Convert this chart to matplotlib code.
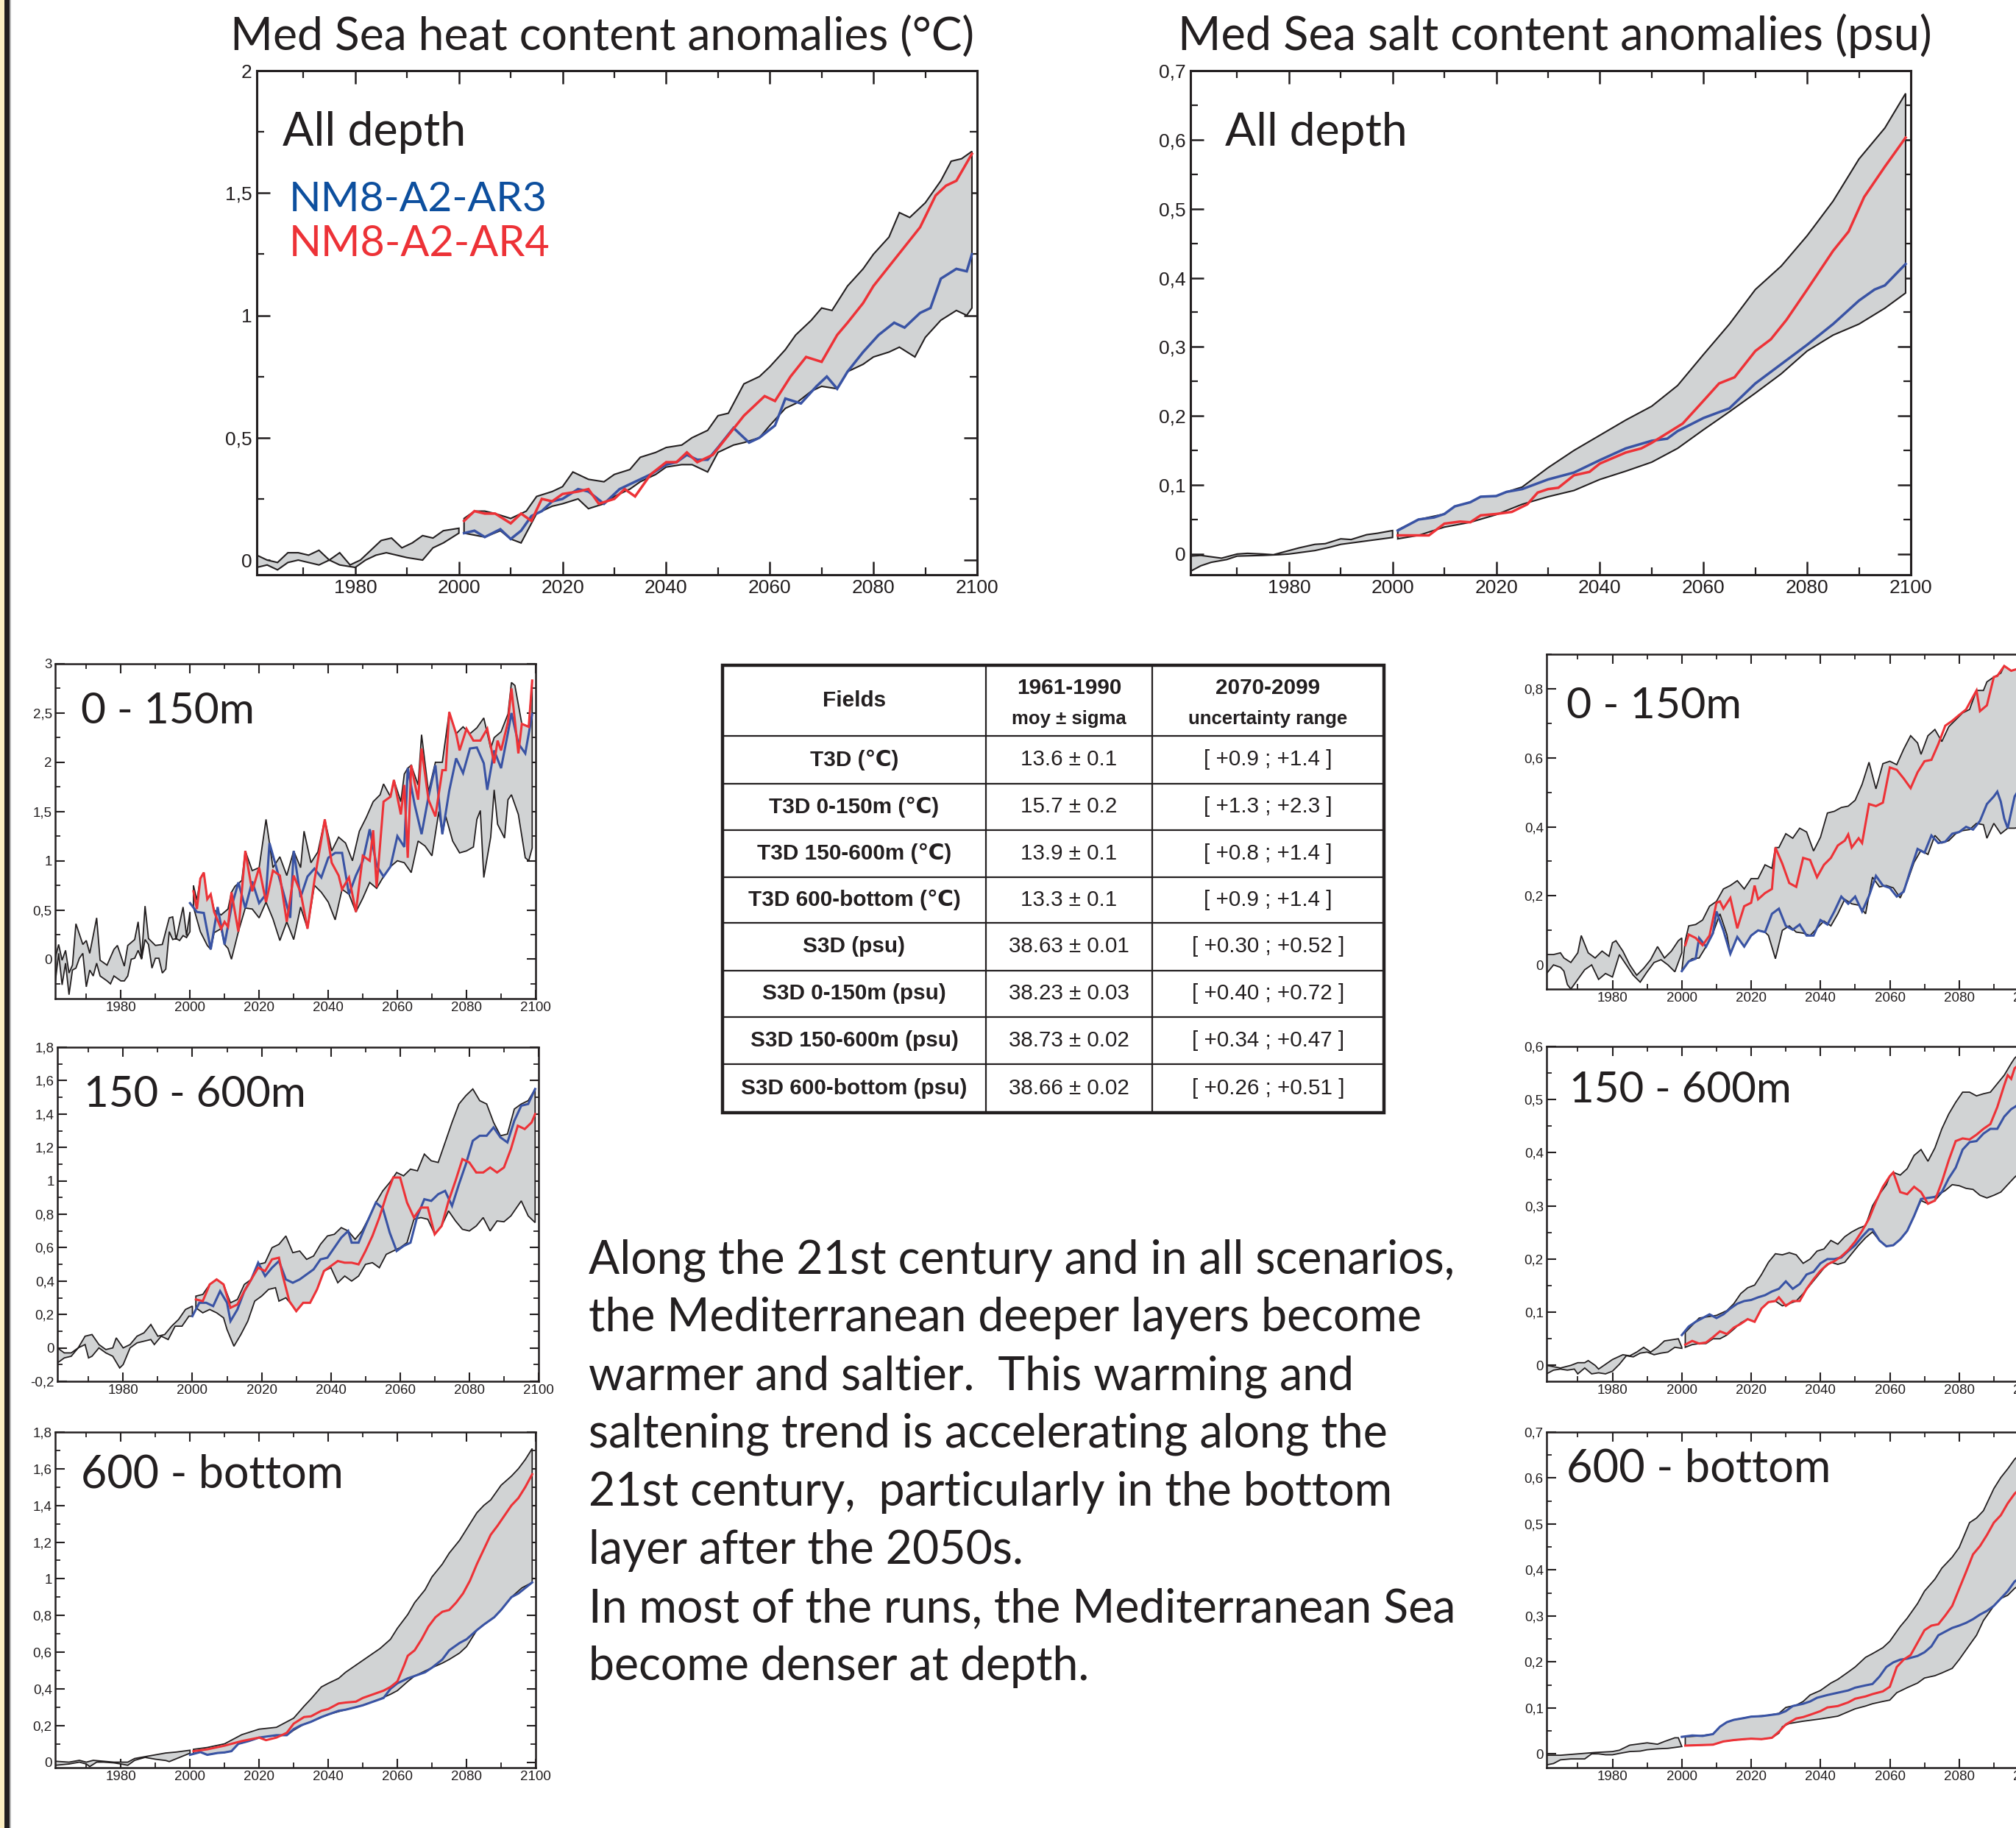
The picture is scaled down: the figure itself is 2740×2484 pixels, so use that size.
import numpy as np
import matplotlib
matplotlib.use('Agg')
import matplotlib.pyplot as plt
from matplotlib import font_manager as fm
from matplotlib.patches import Rectangle
from matplotlib.ticker import MultipleLocator, FuncFormatter

W, H = 2740, 2484
INK = '#231f20'
GREY = '#d1d3d4'
BLUE = '#3953a4'
RED = '#ed3237'
LEG_BLUE = '#0d4f9e'

installed = {f.name for f in fm.fontManager.ttflist}
NARROW = 'Liberation Sans Narrow' if 'Liberation Sans Narrow' in installed else 'Liberation Sans'
MAIN = 'Lato'
plt.rcParams['font.family'] = [NARROW, 'DejaVu Sans']

# ---------------- data: heat content, all depth ----------------
A_HIST_UP = [(1961, 0.02), (1963, 0.0), (1965, -0.01), (1967, 0.03), (1969, 0.03), (1971, 0.02), (1973, 0.04),
             (1975, 0.0), (1977, 0.03), (1979, -0.02), (1981, 0.0), (1983, 0.04), (1985, 0.08), (1987, 0.09),
             (1989, 0.05), (1991, 0.07), (1993, 0.1), (1995, 0.09), (1997, 0.12), (2000, 0.13)]
A_HIST_LO = [(1961, -0.03), (1963, -0.02), (1965, -0.04), (1967, -0.01), (1969, 0.0), (1971, -0.01), (1973, -0.02),
             (1975, 0.0), (1977, -0.02), (1980, -0.03), (1982, 0.0), (1984, 0.02), (1986, 0.03), (1988, 0.02),
             (1990, 0.01), (1993, 0.0), (1995, 0.05), (1997, 0.07), (2000, 0.11)]
A_UP = [(2001, 0.17), (2003, 0.2), (2005, 0.2), (2007, 0.19), (2010, 0.17), (2013, 0.2), (2015, 0.26), (2018, 0.28),
        (2020, 0.3), (2022, 0.36), (2025, 0.33), (2028, 0.32), (2030, 0.35), (2033, 0.37), (2035, 0.42), (2038, 0.44),
        (2040, 0.46), (2043, 0.47), (2045, 0.5), (2048, 0.53), (2050, 0.59), (2052, 0.6), (2055, 0.72), (2058, 0.75),
        (2060, 0.79), (2063, 0.86), (2065, 0.92), (2068, 0.98), (2070, 1.03), (2072, 1.02), (2075, 1.12), (2078, 1.19),
        (2080, 1.25), (2083, 1.32), (2085, 1.42), (2087, 1.4), (2090, 1.46), (2093, 1.55), (2095, 1.63), (2097, 1.64),
        (2099, 1.67)]
A_LO = [(2001, 0.11), (2005, 0.094), (2008, 0.12), (2010, 0.086), (2012, 0.07), (2015, 0.19), (2018, 0.22),
        (2020, 0.23), (2023, 0.25), (2025, 0.21), (2028, 0.23), (2030, 0.26), (2033, 0.29), (2035, 0.32), (2038, 0.35),
        (2040, 0.38), (2043, 0.39), (2045, 0.39), (2048, 0.36), (2050, 0.44), (2053, 0.47), (2055, 0.48), (2058, 0.5),
        (2060, 0.55), (2063, 0.62), (2065, 0.64), (2068, 0.69), (2070, 0.71), (2073, 0.7), (2075, 0.77), (2078, 0.8),
        (2080, 0.83), (2083, 0.85), (2085, 0.87), (2088, 0.83), (2090, 0.91), (2093, 0.98), (2096, 1.02), (2098, 1.0),
        (2099, 1.03)]
A_BLUE = [(2001, 0.11), (2003, 0.12), (2005, 0.094), (2008, 0.126), (2010, 0.086), (2012, 0.12), (2014, 0.18),
          (2016, 0.2), (2018, 0.24), (2020, 0.25), (2023, 0.29), (2025, 0.28), (2028, 0.23), (2031, 0.29), (2034, 0.32),
          (2037, 0.35), (2040, 0.39), (2042, 0.4), (2044, 0.43), (2046, 0.41), (2048, 0.41), (2050, 0.46), (2053, 0.54),
          (2056, 0.48), (2058, 0.5), (2061, 0.55), (2063, 0.66), (2066, 0.64), (2069, 0.71), (2071, 0.75), (2073, 0.7),
          (2075, 0.77), (2078, 0.85), (2081, 0.92), (2084, 0.97), (2086, 0.95), (2089, 1.01), (2091, 1.03),
          (2093, 1.15), (2096, 1.19), (2098, 1.18), (2099, 1.25)]
A_RED = [(2001, 0.16), (2003, 0.2), (2005, 0.19), (2007, 0.19), (2010, 0.15), (2012, 0.19), (2014, 0.16), (2016, 0.25),
         (2018, 0.24), (2020, 0.27), (2023, 0.28), (2025, 0.29), (2027, 0.23), (2030, 0.25), (2032, 0.29), (2034, 0.26),
         (2037, 0.35), (2040, 0.4), (2042, 0.4), (2044, 0.44), (2046, 0.4), (2049, 0.43), (2052, 0.51), (2055, 0.59),
         (2059, 0.67), (2061, 0.65), (2064, 0.75), (2067, 0.83), (2070, 0.81), (2073, 0.92), (2075, 0.97), (2078, 1.05),
         (2080, 1.12), (2083, 1.2), (2086, 1.28), (2089, 1.36), (2092, 1.49), (2094, 1.53), (2096, 1.55), (2099, 1.66)]

# ---------------- salt content, all depth ----------------
B_HIST_UP = [(1961, -0.003), (1963, -0.002), (1965, -0.004), (1967, -0.006), (1970, 0.0), (1972, 0.001), (1975, 0.0),
             (1977, -0.001), (1980, 0.005), (1982, 0.009), (1985, 0.014), (1987, 0.015), (1990, 0.022), (1992, 0.021),
             (1995, 0.028), (1997, 0.03), (2000, 0.034)]
B_HIST_LO = [(1961, -0.025), (1963, -0.017), (1965, -0.012), (1968, -0.008), (1970, -0.003), (1975, -0.002),
             (1978, -0.001), (1980, 0.0), (1985, 0.005), (1988, 0.01), (1990, 0.014), (1995, 0.019), (2000, 0.024)]
B_UP = [(2001, 0.035), (2005, 0.05), (2010, 0.058), (2012, 0.069), (2015, 0.075), (2017, 0.083), (2020, 0.084),
        (2022, 0.09), (2025, 0.097), (2030, 0.125), (2035, 0.15), (2040, 0.172), (2045, 0.194), (2050, 0.214),
        (2055, 0.244), (2060, 0.289), (2065, 0.333), (2070, 0.383), (2075, 0.417), (2080, 0.461), (2085, 0.511),
        (2090, 0.572), (2095, 0.617), (2099, 0.667)]
B_LO = [(2001, 0.022), (2005, 0.027), (2010, 0.039), (2015, 0.046), (2020, 0.057), (2025, 0.072), (2030, 0.083),
        (2035, 0.092), (2040, 0.108), (2045, 0.12), (2050, 0.133), (2055, 0.153), (2060, 0.18), (2065, 0.206),
        (2070, 0.233), (2075, 0.261), (2080, 0.294), (2085, 0.317), (2090, 0.333), (2095, 0.356), (2099, 0.378)]
B_BLUE = [(2001, 0.034), (2005, 0.05), (2008, 0.053), (2010, 0.058), (2012, 0.069), (2015, 0.075), (2017, 0.083),
          (2020, 0.084), (2022, 0.09), (2025, 0.094), (2030, 0.108), (2035, 0.118), (2040, 0.136), (2045, 0.153),
          (2050, 0.164), (2053, 0.167), (2055, 0.178), (2060, 0.197), (2065, 0.211), (2070, 0.247), (2075, 0.275),
          (2080, 0.303), (2085, 0.333), (2090, 0.367), (2093, 0.383), (2095, 0.389), (2099, 0.42)]
B_RED = [(2001, 0.027), (2005, 0.027), (2007, 0.027), (2010, 0.044), (2013, 0.047), (2015, 0.046), (2017, 0.056),
         (2020, 0.058), (2023, 0.061), (2026, 0.072), (2028, 0.089), (2030, 0.094), (2032, 0.096), (2035, 0.114),
         (2038, 0.119), (2040, 0.131), (2045, 0.147), (2048, 0.153), (2050, 0.161), (2053, 0.175), (2056, 0.189),
         (2060, 0.222), (2063, 0.247), (2066, 0.256), (2070, 0.294), (2073, 0.311), (2076, 0.339), (2080, 0.383),
         (2085, 0.439), (2088, 0.467), (2091, 0.517), (2095, 0.561), (2099, 0.603)]

# ---------------- temperature 0-150m ----------------
C_HIST_UP = [(1961, 0.01), (1962, 0.15), (1963, -0.01), (1964, 0.09), (1965, -0.14), (1966, -0.06), (1967, 0.36),
             (1969, 0.15), (1970, 0.19), (1971, 0.06), (1973, 0.42), (1974, -0.01), (1976, -0.06), (1978, 0.1),
             (1979, 0.14), (1981, -0.07), (1982, 0.14), (1984, 0.2), (1985, 0.38), (1986, 0.01), (1987, 0.54),
             (1988, 0.21), (1990, 0.14), (1992, 0.15), (1994, 0.42), (1995, 0.43), (1996, 0.2), (1998, 0.53),
             (1999, 0.24), (2000, 0.48)]
C_HIST_LO = [(1961, -0.24), (1962, 0.06), (1963, -0.26), (1964, -0.04), (1965, -0.36), (1966, -0.11), (1967, -0.09),
             (1968, 0.01), (1969, 0.06), (1970, -0.28), (1971, -0.11), (1972, -0.17), (1973, -0.04), (1974, -0.17),
             (1976, -0.22), (1977, -0.25), (1978, -0.17), (1980, -0.22), (1981, -0.22), (1982, -0.17), (1983, 0.0),
             (1984, 0.01), (1985, 0.09), (1986, 0.0), (1987, 0.2), (1988, 0.15), (1989, -0.09), (1990, 0.01),
             (1991, 0.01), (1992, -0.14), (1993, -0.1), (1994, 0.28), (1995, 0.2), (1996, 0.21), (1997, 0.19),
             (1998, 0.24), (1999, 0.22), (2000, 0.28)]
C_UP = [(2001, 0.75), (2002, 0.6), (2003, 0.82), (2004, 0.88), (2005, 0.61), (2006, 0.66), (2007, 0.5), (2009, 0.45),
        (2011, 0.51), (2012, 0.68), (2013, 0.74), (2015, 0.8), (2016, 1.1), (2018, 0.9), (2020, 0.93), (2022, 1.42),
        (2023, 1.18), (2024, 0.93), (2026, 1.04), (2028, 0.85), (2030, 1.1), (2032, 0.93), (2033, 1.3), (2035, 0.98),
        (2037, 1.09), (2039, 1.42), (2041, 1.1), (2043, 1.24), (2045, 1.18), (2047, 1.0), (2049, 1.3), (2051, 1.44),
        (2053, 1.6), (2055, 1.67), (2056, 1.78), (2058, 1.65), (2059, 1.82), (2061, 1.6), (2062, 1.88), (2063, 1.94),
        (2064, 1.97), (2066, 1.77), (2067, 2.28), (2069, 1.7), (2071, 2.0), (2073, 2.0), (2075, 2.51), (2077, 2.29),
        (2079, 2.36), (2081, 2.29), (2083, 2.35), (2085, 2.45), (2087, 2.14), (2088, 2.25), (2090, 2.31),
        (2092, 2.49), (2093, 2.81), (2094, 2.78), (2096, 2.39), (2098, 2.36), (2099, 2.83)]
C_LO = [(2001, 0.53), (2003, 0.28), (2005, 0.14), (2006, 0.1), (2007, 0.27), (2009, 0.31), (2010, 0.15), (2011, 0.11),
        (2012, 0.0), (2014, 0.28), (2016, 0.52), (2018, 0.51), (2020, 0.42), (2022, 0.58), (2024, 0.41), (2026, 0.19),
        (2028, 0.38), (2030, 0.2), (2032, 0.53), (2034, 0.31), (2036, 0.75), (2038, 0.68), (2040, 0.58), (2042, 0.4),
        (2044, 0.71), (2046, 0.66), (2048, 0.48), (2050, 0.62), (2052, 0.78), (2054, 0.72), (2056, 0.84), (2058, 0.94),
        (2060, 1.0), (2062, 0.98), (2064, 0.88), (2066, 1.2), (2068, 1.15), (2070, 1.05), (2072, 1.5), (2073, 1.27),
        (2074, 1.45), (2076, 1.2), (2078, 1.08), (2080, 1.1), (2082, 1.14), (2083, 1.42), (2084, 1.51), (2085, 0.83),
        (2087, 1.24), (2088, 1.72), (2089, 1.37), (2091, 1.23), (2092, 1.62), (2093, 1.67), (2095, 1.47),
        (2097, 1.03), (2098, 1.0), (2099, 1.13)]
C_BLUE = [(2000, 0.57), (2002, 0.48), (2004, 0.47), (2006, 0.1), (2008, 0.53), (2010, 0.15), (2012, 0.53),
          (2014, 0.78), (2016, 0.52), (2018, 0.79), (2020, 0.57), (2022, 0.66), (2023, 1.18), (2025, 0.93),
          (2027, 0.68), (2029, 0.42), (2030, 1.1), (2032, 0.63), (2034, 0.84), (2036, 0.92), (2038, 0.83), (2040, 1.03),
          (2042, 1.08), (2044, 1.08), (2046, 0.66), (2048, 0.85), (2050, 1.0), (2052, 1.32), (2054, 0.95),
          (2056, 0.84), (2058, 0.94), (2060, 1.25), (2062, 1.14), (2063, 1.94), (2065, 1.57), (2067, 1.27),
          (2069, 1.65), (2071, 1.97), (2073, 1.27), (2075, 1.71), (2077, 2.04), (2079, 1.89), (2081, 2.14),
          (2083, 2.15), (2085, 1.99), (2086, 1.72), (2088, 2.12), (2090, 1.94), (2092, 2.3), (2093, 2.5), (2095, 2.19),
          (2097, 2.09), (2099, 2.49)]
C_RED = [(2001, 0.69), (2002, 0.51), (2003, 0.82), (2004, 0.88), (2005, 0.61), (2006, 0.66), (2007, 0.48), (2009, 0.31),
         (2010, 0.38), (2011, 0.33), (2012, 0.68), (2014, 0.28), (2016, 1.1), (2018, 0.69), (2020, 0.93), (2022, 0.58),
         (2024, 0.9), (2026, 0.85), (2028, 0.38), (2030, 0.85), (2032, 0.68), (2034, 0.31), (2036, 0.8), (2039, 1.42),
         (2041, 0.98), (2043, 0.85), (2044, 0.71), (2046, 0.83), (2048, 0.48), (2050, 1.05), (2052, 1.0), (2053, 1.31),
         (2054, 0.73), (2056, 1.6), (2058, 1.65), (2059, 1.82), (2061, 1.47), (2062, 1.77), (2063, 1.03), (2064, 1.97),
         (2066, 1.62), (2067, 2.14), (2069, 1.62), (2071, 1.45), (2073, 1.92), (2074, 1.92), (2075, 2.51),
         (2077, 2.29), (2078, 2.12), (2080, 2.34), (2082, 2.22), (2084, 2.22), (2086, 2.34), (2088, 1.99),
         (2089, 2.22), (2090, 2.12), (2092, 2.41), (2093, 2.75), (2095, 2.09), (2096, 2.39), (2098, 2.36),
         (2099, 2.83)]

# ---------------- temperature 150-600m ----------------
D_HIST_UP = [(1961, 0.0), (1963, -0.03), (1965, -0.03), (1967, 0.0), (1969, 0.07), (1971, 0.08), (1973, 0.02),
             (1975, -0.01), (1977, 0.0), (1978, 0.06), (1980, 0.0), (1982, 0.02), (1984, 0.07), (1986, 0.09),
             (1988, 0.14), (1990, 0.07), (1992, 0.08), (1994, 0.13), (1996, 0.17), (1998, 0.23), (2000, 0.25)]
D_HIST_LO = [(1961, -0.09), (1963, -0.06), (1965, -0.05), (1967, 0.0), (1969, 0.02), (1970, -0.06), (1971, -0.05),
             (1973, 0.0), (1975, -0.03), (1977, -0.05), (1979, -0.12), (1980, -0.1), (1982, 0.0), (1984, 0.03),
             (1986, 0.04), (1988, 0.05), (1989, 0.02), (1991, 0.07), (1993, 0.05), (1995, 0.13), (1997, 0.13),
             (1999, 0.19), (2000, 0.19)]
D_UP = [(2001, 0.31), (2003, 0.32), (2005, 0.38), (2007, 0.41), (2009, 0.38), (2011, 0.27), (2013, 0.29), (2015, 0.38),
        (2017, 0.41), (2019, 0.5), (2021, 0.51), (2023, 0.6), (2025, 0.62), (2027, 0.67), (2029, 0.57), (2031, 0.58),
        (2033, 0.53), (2035, 0.55), (2037, 0.62), (2039, 0.67), (2041, 0.68), (2043, 0.72), (2045, 0.7), (2047, 0.65),
        (2049, 0.7), (2051, 0.78), (2053, 0.87), (2055, 0.94), (2057, 0.99), (2059, 1.05), (2061, 1.03), (2063, 1.07),
        (2065, 1.06), (2067, 1.16), (2069, 1.12), (2071, 1.11), (2073, 1.23), (2075, 1.35), (2077, 1.46),
        (2079, 1.51), (2081, 1.55), (2083, 1.48), (2085, 1.46), (2087, 1.35), (2089, 1.27), (2091, 1.28),
        (2093, 1.43), (2095, 1.46), (2097, 1.48), (2099, 1.55)]
D_LO = [(2001, 0.24), (2003, 0.21), (2005, 0.23), (2007, 0.21), (2009, 0.18), (2010, 0.11), (2012, 0.01), (2014, 0.08),
        (2016, 0.16), (2018, 0.28), (2020, 0.31), (2022, 0.35), (2024, 0.36), (2025, 0.28), (2027, 0.3), (2029, 0.25),
        (2030, 0.22), (2032, 0.27), (2034, 0.27), (2036, 0.35), (2038, 0.46), (2040, 0.48), (2042, 0.39),
        (2044, 0.43), (2046, 0.4), (2048, 0.43), (2050, 0.5), (2052, 0.51), (2054, 0.48), (2056, 0.56), (2058, 0.58),
        (2060, 0.6), (2062, 0.63), (2064, 0.77), (2066, 0.78), (2068, 0.77), (2070, 0.68), (2072, 0.73), (2074, 0.82),
        (2076, 0.76), (2078, 0.71), (2080, 0.7), (2082, 0.73), (2084, 0.78), (2086, 0.7), (2088, 0.76),
        (2090, 0.755), (2092, 0.79), (2094, 0.85), (2095, 0.88), (2097, 0.79), (2099, 0.75)]
D_BLUE = [(2000, 0.19), (2002, 0.27), (2004, 0.27), (2006, 0.25), (2008, 0.34), (2010, 0.27), (2011, 0.16),
          (2013, 0.23), (2015, 0.34), (2017, 0.41), (2019, 0.51), (2021, 0.43), (2023, 0.48), (2025, 0.52),
          (2027, 0.41), (2029, 0.39), (2031, 0.41), (2033, 0.44), (2035, 0.47), (2037, 0.53), (2039, 0.54),
          (2041, 0.6), (2043, 0.66), (2045, 0.7), (2046, 0.63), (2048, 0.63), (2050, 0.73), (2053, 0.87),
          (2055, 0.835), (2057, 0.69), (2059, 0.58), (2061, 0.61), (2063, 0.63), (2065, 0.79), (2067, 0.89),
          (2069, 0.88), (2071, 0.92), (2073, 0.94), (2075, 0.85), (2077, 0.98), (2079, 1.1), (2081, 1.24),
          (2083, 1.27), (2085, 1.27), (2087, 1.32), (2089, 1.26), (2091, 1.23), (2093, 1.36), (2095, 1.45),
          (2097, 1.46), (2099, 1.55)]
D_RED = [(2001, 0.29), (2003, 0.28), (2005, 0.38), (2007, 0.41), (2009, 0.38), (2011, 0.24), (2013, 0.26), (2015, 0.34),
         (2017, 0.41), (2019, 0.48), (2021, 0.46), (2023, 0.53), (2025, 0.54), (2026, 0.44), (2028, 0.28),
         (2030, 0.22), (2032, 0.27), (2034, 0.27), (2036, 0.35), (2038, 0.46), (2040, 0.49), (2042, 0.52),
         (2044, 0.51), (2046, 0.51), (2048, 0.5), (2050, 0.58), (2052, 0.67), (2054, 0.78), (2056, 0.91),
         (2058, 1.02), (2060, 1.02), (2062, 0.87), (2064, 0.78), (2066, 0.84), (2068, 0.84), (2070, 0.68),
         (2072, 0.73), (2074, 0.88), (2076, 1.0), (2078, 1.13), (2080, 1.11), (2082, 1.05), (2084, 1.05),
         (2086, 1.08), (2088, 1.05), (2090, 1.08), (2092, 1.19), (2094, 1.33), (2096, 1.31), (2098, 1.35),
         (2099, 1.4)]

# ---------------- temperature 600-bottom ----------------
E_HIST_UP = [(1961, 0.005), (1965, 0.0), (1968, 0.01), (1970, 0.0), (1972, 0.01), (1975, 0.005), (1978, 0.0),
             (1980, 0.0), (1982, 0.0), (1984, 0.02), (1987, 0.03), (1990, 0.04), (1993, 0.05), (1996, 0.055),
             (2000, 0.065)]
E_HIST_LO = [(1961, -0.017), (1965, -0.01), (1968, 0.0), (1970, -0.01), (1971, -0.024), (1973, 0.0), (1975, 0.0),
             (1978, -0.004), (1980, -0.01), (1982, -0.017), (1984, 0.01), (1987, 0.026), (1990, 0.016), (1993, 0.009),
             (1994, 0.003), (1997, 0.026), (2000, 0.049)]
E_UP = [(2001, 0.07), (2005, 0.08), (2010, 0.1), (2015, 0.15), (2020, 0.18), (2025, 0.19), (2030, 0.24),
        (2033, 0.305), (2035, 0.345), (2038, 0.41), (2040, 0.43), (2043, 0.457), (2045, 0.49), (2050, 0.555),
        (2055, 0.62), (2058, 0.67), (2060, 0.73), (2063, 0.805), (2065, 0.87), (2068, 0.94), (2070, 1.01),
        (2073, 1.08), (2075, 1.14), (2078, 1.21), (2080, 1.27), (2083, 1.36), (2085, 1.4), (2087, 1.43),
        (2090, 1.51), (2093, 1.56), (2095, 1.6), (2097, 1.65), (2099, 1.71)]
E_LO = [(2001, 0.045), (2003, 0.055), (2005, 0.04), (2008, 0.05), (2010, 0.053), (2012, 0.06), (2014, 0.1),
        (2017, 0.115), (2020, 0.134), (2025, 0.145), (2028, 0.147), (2030, 0.174), (2033, 0.207), (2035, 0.22),
        (2040, 0.26), (2045, 0.286), (2050, 0.31), (2055, 0.345), (2058, 0.37), (2060, 0.39), (2063, 0.44),
        (2065, 0.47), (2070, 0.515), (2073, 0.54), (2075, 0.56), (2078, 0.595), (2080, 0.63), (2083, 0.72),
        (2085, 0.75), (2088, 0.79), (2090, 0.83), (2093, 0.9), (2096, 0.95), (2099, 0.98)]
E_BLUE = [(2000, 0.04), (2003, 0.055), (2005, 0.04), (2008, 0.05), (2010, 0.053), (2012, 0.06), (2014, 0.1),
          (2017, 0.115), (2020, 0.134), (2025, 0.147), (2028, 0.147), (2030, 0.18), (2032, 0.2), (2035, 0.22),
          (2038, 0.246), (2040, 0.26), (2043, 0.28), (2045, 0.286), (2048, 0.3), (2050, 0.31), (2053, 0.33),
          (2056, 0.35), (2058, 0.4), (2060, 0.43), (2063, 0.457), (2065, 0.47), (2068, 0.49), (2070, 0.515),
          (2073, 0.56), (2075, 0.61), (2078, 0.65), (2080, 0.67), (2083, 0.72), (2085, 0.75), (2088, 0.79),
          (2090, 0.83), (2093, 0.9), (2095, 0.92), (2097, 0.95), (2099, 0.98)]
E_RED = [(2001, 0.06), (2005, 0.07), (2010, 0.09), (2015, 0.115), (2020, 0.134), (2022, 0.12), (2025, 0.134),
         (2028, 0.16), (2030, 0.21), (2033, 0.246), (2035, 0.25), (2038, 0.28), (2040, 0.29), (2043, 0.32),
         (2045, 0.325), (2048, 0.33), (2050, 0.35), (2053, 0.37), (2056, 0.39), (2058, 0.41), (2060, 0.44),
         (2062, 0.53), (2063, 0.58), (2065, 0.61), (2067, 0.67), (2069, 0.74), (2071, 0.79), (2073, 0.82),
         (2075, 0.83), (2077, 0.87), (2079, 0.92), (2081, 0.99), (2083, 1.08), (2085, 1.16), (2087, 1.24),
         (2089, 1.29), (2091, 1.345), (2093, 1.4), (2095, 1.44), (2097, 1.5), (2099, 1.57)]

# ---------------- salinity 0-150m ----------------
F_HIST_UP = [(1961, 0.03), (1963, 0.03), (1965, 0.035), (1966, 0.02), (1968, 0.007), (1970, 0.035), (1971, 0.085),
             (1973, 0.035), (1975, 0.02), (1977, 0.04), (1979, 0.025), (1980, 0.064), (1981, 0.07), (1983, 0.04),
             (1985, 0.0), (1987, -0.03), (1989, -0.01), (1991, 0.015), (1993, 0.053), (1995, 0.02), (1997, 0.04),
             (1999, 0.07), (2000, 0.078)]
F_HIST_LO = [(1961, -0.025), (1963, 0.0), (1965, -0.007), (1966, -0.018), (1967, -0.057), (1968, -0.07),
             (1970, -0.042), (1972, -0.014), (1974, 0.0), (1976, -0.042), (1978, -0.025), (1980, -0.035),
             (1982, 0.03), (1984, 0.0), (1986, -0.03), (1988, -0.05), (1990, -0.02), (1992, 0.007), (1994, 0.015),
             (1996, 0.0), (1998, -0.02), (2000, 0.035)]
F_UP = [(2001, 0.07), (2002, 0.113), (2004, 0.117), (2006, 0.13), (2008, 0.17), (2010, 0.184), (2012, 0.22),
        (2014, 0.23), (2016, 0.244), (2018, 0.22), (2020, 0.25), (2022, 0.25), (2024, 0.29), (2026, 0.28),
        (2027, 0.34), (2028, 0.34), (2030, 0.38), (2032, 0.367), (2034, 0.396), (2036, 0.385), (2038, 0.33),
        (2040, 0.37), (2042, 0.44), (2044, 0.445), (2046, 0.456), (2048, 0.46), (2050, 0.477), (2052, 0.523),
        (2054, 0.587), (2056, 0.51), (2058, 0.583), (2060, 0.59), (2062, 0.58), (2064, 0.625), (2066, 0.664),
        (2068, 0.643), (2069, 0.61), (2071, 0.664), (2073, 0.682), (2075, 0.647), (2077, 0.69), (2079, 0.71),
        (2081, 0.73), (2083, 0.74), (2085, 0.795), (2087, 0.795), (2088, 0.82), (2090, 0.834), (2092, 0.845),
        (2093, 0.866), (2095, 0.852), (2096, 0.855), (2098, 0.86)]
F_LO = [(2000, -0.018), (2002, 0.01), (2003, 0.018), (2005, 0.02), (2007, 0.053), (2009, 0.092), (2011, 0.148),
        (2013, 0.088), (2014, 0.032), (2016, 0.081), (2018, 0.053), (2020, 0.085), (2022, 0.1), (2024, 0.095),
        (2025, 0.085), (2027, 0.018), (2029, 0.1), (2031, 0.113), (2033, 0.095), (2035, 0.092), (2037, 0.085),
        (2039, 0.106), (2041, 0.127), (2043, 0.113), (2045, 0.148), (2047, 0.19), (2049, 0.177), (2051, 0.173),
        (2053, 0.148), (2055, 0.254), (2057, 0.226), (2059, 0.23), (2061, 0.223), (2063, 0.194), (2065, 0.24),
        (2067, 0.297), (2069, 0.332), (2071, 0.32), (2073, 0.375), (2075, 0.353), (2077, 0.36), (2079, 0.38),
        (2081, 0.389), (2083, 0.392), (2085, 0.41), (2087, 0.406), (2088, 0.367), (2090, 0.41), (2092, 0.38),
        (2094, 0.396), (2096, 0.396), (2098, 0.4)]
F_BLUE = [(2000, -0.018), (2002, 0.01), (2004, 0.018), (2005, 0.078), (2007, 0.053), (2009, 0.092), (2010, 0.155),
          (2012, 0.1), (2014, 0.032), (2016, 0.081), (2018, 0.053), (2020, 0.085), (2022, 0.1), (2024, 0.095),
          (2026, 0.148), (2028, 0.163), (2030, 0.113), (2032, 0.102), (2034, 0.117), (2036, 0.085), (2038, 0.085),
          (2040, 0.13), (2042, 0.117), (2044, 0.155), (2046, 0.198), (2048, 0.177), (2050, 0.198), (2052, 0.155),
          (2054, 0.2), (2056, 0.258), (2058, 0.23), (2060, 0.223), (2062, 0.198), (2064, 0.212), (2066, 0.276),
          (2068, 0.336), (2070, 0.325), (2072, 0.375), (2074, 0.353), (2076, 0.357), (2078, 0.38), (2080, 0.385),
          (2082, 0.4), (2084, 0.392), (2086, 0.417), (2088, 0.466), (2090, 0.488), (2091, 0.502), (2092, 0.473),
          (2093, 0.424), (2094, 0.396), (2096, 0.488), (2098, 0.52)]
F_RED = [(2001, 0.057), (2002, 0.088), (2004, 0.078), (2006, 0.057), (2008, 0.085), (2010, 0.18), (2011, 0.184),
         (2012, 0.163), (2014, 0.194), (2016, 0.106), (2018, 0.17), (2020, 0.18), (2021, 0.23), (2022, 0.19),
         (2024, 0.208), (2026, 0.22), (2027, 0.34), (2029, 0.293), (2031, 0.237), (2033, 0.226), (2035, 0.31),
         (2037, 0.304), (2039, 0.254), (2041, 0.29), (2043, 0.31), (2045, 0.346), (2047, 0.36), (2048, 0.378),
         (2049, 0.34), (2051, 0.367), (2052, 0.353), (2054, 0.466), (2056, 0.46), (2058, 0.47), (2060, 0.572),
         (2062, 0.565), (2064, 0.54), (2066, 0.512), (2068, 0.558), (2070, 0.59), (2072, 0.594), (2074, 0.64),
         (2076, 0.693), (2078, 0.707), (2080, 0.724), (2082, 0.74), (2084, 0.777), (2085, 0.795), (2086, 0.735),
         (2088, 0.752), (2090, 0.834), (2091, 0.837), (2093, 0.866), (2095, 0.852), (2096, 0.855), (2098, 0.86)]

# ---------------- salinity 150-600m ----------------
G_HIST_UP = [(1961, 0.0), (1965, -0.005), (1968, 0.0), (1970, 0.005), (1972, 0.005), (1973, 0.009), (1975, 0.0),
             (1976, -0.007), (1978, 0.002), (1980, 0.011), (1983, 0.02), (1985, 0.018), (1987, 0.025), (1989, 0.034),
             (1991, 0.025), (1993, 0.034), (1995, 0.046), (1997, 0.048), (1999, 0.05), (2000, 0.034)]
G_HIST_LO = [(1961, -0.016), (1963, -0.009), (1965, -0.007), (1967, -0.009), (1969, -0.007), (1970, -0.016),
             (1972, -0.005), (1974, -0.016), (1976, -0.014), (1978, -0.016), (1980, -0.011), (1982, 0.002),
             (1984, 0.018), (1986, 0.016), (1988, 0.023), (1990, 0.025), (1992, 0.02), (1994, 0.023), (1996, 0.025),
             (1998, 0.034), (2000, 0.032)]
G_UP = [(2001, 0.062), (2005, 0.089), (2010, 0.094), (2013, 0.103), (2015, 0.116), (2017, 0.135), (2019, 0.146),
        (2021, 0.151), (2023, 0.171), (2025, 0.194), (2027, 0.21), (2029, 0.208), (2031, 0.212), (2033, 0.208),
        (2035, 0.192), (2037, 0.2), (2039, 0.215), (2041, 0.219), (2043, 0.235), (2045, 0.228), (2047, 0.242),
        (2049, 0.251), (2051, 0.258), (2053, 0.263), (2055, 0.3), (2057, 0.322), (2059, 0.34), (2060, 0.356),
        (2061, 0.363), (2063, 0.358), (2065, 0.37), (2067, 0.395), (2069, 0.406), (2071, 0.384), (2073, 0.409),
        (2075, 0.445), (2077, 0.473), (2079, 0.495), (2081, 0.514), (2083, 0.514), (2085, 0.507), (2087, 0.511),
        (2089, 0.514), (2091, 0.53), (2093, 0.546), (2095, 0.568), (2096, 0.578), (2098, 0.59)]
G_LO = [(2001, 0.034), (2003, 0.039), (2005, 0.041), (2007, 0.041), (2009, 0.05), (2011, 0.05), (2013, 0.057),
        (2015, 0.068), (2017, 0.08), (2019, 0.087), (2021, 0.082), (2023, 0.107), (2025, 0.119), (2027, 0.121),
        (2029, 0.112), (2031, 0.116), (2033, 0.121), (2035, 0.135), (2037, 0.151), (2039, 0.167), (2041, 0.183),
        (2043, 0.194), (2045, 0.19), (2047, 0.194), (2049, 0.21), (2051, 0.226), (2053, 0.24), (2055, 0.251),
        (2057, 0.235), (2059, 0.224), (2061, 0.226), (2063, 0.237), (2065, 0.253), (2067, 0.281), (2069, 0.31),
        (2071, 0.304), (2073, 0.31), (2075, 0.325), (2076, 0.329), (2078, 0.34), (2080, 0.338), (2082, 0.333),
        (2084, 0.331), (2086, 0.32), (2088, 0.315), (2090, 0.32), (2092, 0.326), (2094, 0.34), (2096, 0.354),
        (2098, 0.365)]
G_BLUE = [(2000, 0.057), (2002, 0.073), (2004, 0.082), (2006, 0.089), (2008, 0.096), (2010, 0.089), (2012, 0.096),
          (2014, 0.107), (2016, 0.116), (2018, 0.121), (2020, 0.123), (2022, 0.128), (2024, 0.132), (2026, 0.139),
          (2028, 0.144), (2030, 0.158), (2032, 0.144), (2034, 0.153), (2036, 0.171), (2038, 0.176), (2040, 0.192),
          (2042, 0.2), (2044, 0.2), (2046, 0.203), (2048, 0.215), (2050, 0.226), (2052, 0.242), (2054, 0.256),
          (2055, 0.256), (2057, 0.235), (2059, 0.224), (2061, 0.226), (2063, 0.237), (2065, 0.253), (2067, 0.281),
          (2069, 0.313), (2071, 0.315), (2073, 0.317), (2075, 0.326), (2077, 0.352), (2079, 0.372), (2081, 0.406),
          (2083, 0.42), (2085, 0.422), (2087, 0.436), (2089, 0.445), (2091, 0.445), (2093, 0.468), (2095, 0.482),
          (2096, 0.486), (2098, 0.495)]
G_RED = [(2001, 0.039), (2003, 0.046), (2005, 0.041), (2007, 0.043), (2009, 0.053), (2011, 0.064), (2013, 0.059),
         (2015, 0.071), (2017, 0.078), (2019, 0.087), (2021, 0.082), (2023, 0.107), (2025, 0.119), (2027, 0.121),
         (2028, 0.128), (2030, 0.112), (2032, 0.121), (2034, 0.121), (2036, 0.144), (2038, 0.162), (2040, 0.178),
         (2042, 0.19), (2044, 0.196), (2046, 0.205), (2048, 0.217), (2050, 0.233), (2052, 0.253), (2054, 0.276),
         (2056, 0.308), (2058, 0.336), (2060, 0.356), (2061, 0.363), (2063, 0.326), (2065, 0.322), (2067, 0.336),
         (2069, 0.326), (2071, 0.304), (2073, 0.31), (2075, 0.345), (2077, 0.386), (2079, 0.422), (2081, 0.427),
         (2083, 0.425), (2085, 0.434), (2087, 0.445), (2089, 0.454), (2091, 0.486), (2093, 0.527), (2094, 0.546),
         (2095, 0.539), (2096, 0.559), (2098, 0.57)]

# ---------------- salinity 600-bottom ----------------
H_HIST_UP = [(1961, -0.003), (1965, -0.003), (1970, 0.0), (1975, 0.003), (1980, 0.005), (1982, 0.008), (1985, 0.019),
             (1987, 0.021), (1990, 0.024), (1993, 0.021), (1995, 0.027), (1998, 0.035), (1999, 0.035), (2000, 0.016)]
H_HIST_LO = [(1961, -0.024), (1963, -0.021), (1965, -0.013), (1968, -0.011), (1970, -0.011), (1972, -0.011),
             (1974, 0.0), (1976, 0.0), (1978, -0.002), (1980, -0.002), (1982, 0.001), (1985, 0.005), (1988, 0.006),
             (1990, 0.009), (1993, 0.011), (1996, 0.012), (2000, 0.016)]
H_UP = [(2001, 0.037), (2005, 0.039), (2009, 0.043), (2011, 0.059), (2013, 0.069), (2015, 0.074), (2020, 0.081),
        (2025, 0.084), (2028, 0.088), (2030, 0.101), (2033, 0.106), (2035, 0.114), (2037, 0.128), (2040, 0.138),
        (2043, 0.154), (2045, 0.162), (2048, 0.178), (2050, 0.189), (2053, 0.21), (2055, 0.218), (2058, 0.231),
        (2060, 0.245), (2063, 0.277), (2065, 0.295), (2068, 0.327), (2070, 0.354), (2073, 0.38), (2075, 0.404),
        (2078, 0.428), (2080, 0.449), (2083, 0.503), (2085, 0.513), (2087, 0.529), (2090, 0.577), (2092, 0.601),
        (2094, 0.62), (2096, 0.641), (2098, 0.655)]
H_LO = [(2001, 0.018), (2005, 0.019), (2009, 0.02), (2012, 0.027), (2015, 0.03), (2020, 0.033), (2023, 0.032),
        (2026, 0.035), (2028, 0.045), (2029, 0.059), (2031, 0.066), (2035, 0.071), (2040, 0.076), (2045, 0.082),
        (2050, 0.098), (2053, 0.104), (2055, 0.109), (2058, 0.114), (2060, 0.117), (2062, 0.133), (2065, 0.144),
        (2068, 0.154), (2070, 0.165), (2073, 0.17), (2075, 0.176), (2078, 0.186), (2080, 0.205), (2083, 0.237),
        (2085, 0.258), (2087, 0.29), (2090, 0.322), (2092, 0.338), (2094, 0.345), (2096, 0.36), (2098, 0.37)]
H_BLUE = [(2000, 0.037), (2003, 0.04), (2006, 0.039), (2009, 0.043), (2011, 0.059), (2013, 0.069), (2015, 0.074),
          (2018, 0.078), (2020, 0.081), (2023, 0.082), (2025, 0.084), (2028, 0.087), (2030, 0.093), (2032, 0.104),
          (2035, 0.109), (2037, 0.114), (2039, 0.122), (2042, 0.128), (2045, 0.133), (2048, 0.138), (2050, 0.144),
          (2053, 0.149), (2055, 0.152), (2057, 0.168), (2059, 0.189), (2061, 0.199), (2063, 0.205), (2065, 0.207),
          (2068, 0.213), (2070, 0.221), (2072, 0.234), (2074, 0.258), (2076, 0.266), (2078, 0.274), (2080, 0.279),
          (2082, 0.285), (2084, 0.293), (2086, 0.303), (2088, 0.311), (2090, 0.322), (2092, 0.338), (2094, 0.354),
          (2096, 0.375), (2098, 0.385)]
H_RED = [(2001, 0.018), (2005, 0.019), (2009, 0.02), (2012, 0.027), (2015, 0.03), (2018, 0.032), (2020, 0.033),
         (2023, 0.032), (2026, 0.035), (2028, 0.048), (2030, 0.064), (2033, 0.077), (2035, 0.08), (2037, 0.085),
         (2040, 0.093), (2042, 0.101), (2045, 0.104), (2048, 0.112), (2050, 0.12), (2053, 0.125), (2055, 0.13),
         (2058, 0.136), (2060, 0.146), (2062, 0.189), (2064, 0.205), (2066, 0.215), (2068, 0.242), (2070, 0.269),
         (2072, 0.279), (2074, 0.282), (2076, 0.301), (2078, 0.322), (2080, 0.359), (2082, 0.396), (2084, 0.434),
         (2086, 0.452), (2088, 0.476), (2090, 0.503), (2092, 0.519), (2094, 0.545), (2096, 0.566), (2098, 0.58)]

# ---------------- texts ----------------
TITLES = ['Med Sea heat content anomalies (°C)', 'Med Sea salt content anomalies (psu)']
X_TICKS = [1980, 2000, 2020, 2040, 2060, 2080, 2100]
TABLE_HEAD = ['Fields', '1961-1990', 'moy ± sigma', '2070-2099', 'uncertainty range']
TABLE_FIELDS = ['T3D (℃)', 'T3D 0-150m (℃)', 'T3D 150-600m (℃)', 'T3D 600-bottom (℃)',
                'S3D (psu)', 'S3D 0-150m (psu)', 'S3D 150-600m (psu)', 'S3D 600-bottom (psu)']
TABLE_REF = ['13.6 ± 0.1', '15.7 ± 0.2', '13.9 ± 0.1', '13.3 ± 0.1',
             '38.63 ± 0.01', '38.23 ± 0.03', '38.73 ± 0.02', '38.66 ± 0.02']
TABLE_RANGE = ['[ +0.9 ; +1.4 ]', '[ +1.3 ; +2.3 ]', '[ +0.8 ; +1.4 ]', '[ +0.9 ; +1.4 ]',
               '[ +0.30 ; +0.52 ]', '[ +0.40 ; +0.72 ]', '[ +0.34 ; +0.47 ]', '[ +0.26 ; +0.51 ]']
PARAGRAPH = ['Along the 21st century and in all scenarios,',
             'the Mediterranean deeper layers become',
             'warmer and saltier.  This warming and',
             'saltening trend is accelerating along the',
             '21st century,  particularly in the bottom',
             'layer after the 2050s.',
             'In most of the runs, the Mediterranean Sea',
             'become denser at depth.']

# panel layout: box in px (left, top, right, bottom), y range, major y ticks, minor step, big/small style
PANELS = [
    (A_HIST_UP, A_HIST_LO, A_UP, A_LO, A_BLUE, A_RED, (349, 96, 1328, 781), (-0.06, 2.0), [0, 0.5, 1, 1.5, 2], 0.25, True),
    (B_HIST_UP, B_HIST_LO, B_UP, B_LO, B_BLUE, B_RED, (1618, 96, 2597, 781), (-0.03, 0.7),
     [0, 0.1, 0.2, 0.3, 0.4, 0.5, 0.6, 0.7], 0.05, True),
    (C_HIST_UP, C_HIST_LO, C_UP, C_LO, C_BLUE, C_RED, (75, 902, 728, 1357), (-0.4, 3.0),
     [0, 0.5, 1, 1.5, 2, 2.5, 3], 0.25, False),
    (D_HIST_UP, D_HIST_LO, D_UP, D_LO, D_BLUE, D_RED, (78, 1423, 732, 1877), (-0.2, 1.8),
     [-0.2, 0, 0.2, 0.4, 0.6, 0.8, 1, 1.2, 1.4, 1.6, 1.8], 0.1, False),
    (E_HIST_UP, E_HIST_LO, E_UP, E_LO, E_BLUE, E_RED, (75, 1946, 728, 2402), (-0.03, 1.8),
     [0, 0.2, 0.4, 0.6, 0.8, 1, 1.2, 1.4, 1.6, 1.8], 0.1, False),
    (F_HIST_UP, F_HIST_LO, F_UP, F_LO, F_BLUE, F_RED, (2102, 889, 2757, 1344), (-0.07, 0.9),
     [0, 0.2, 0.4, 0.6, 0.8], 0.1, False),
    (G_HIST_UP, G_HIST_LO, G_UP, G_LO, G_BLUE, G_RED, (2102, 1422, 2757, 1877), (-0.03, 0.6),
     [0, 0.1, 0.2, 0.3, 0.4, 0.5, 0.6], 0.05, False),
    (H_HIST_UP, H_HIST_LO, H_UP, H_LO, H_BLUE, H_RED, (2102, 1946, 2757, 2402), (-0.03, 0.7),
     [0, 0.1, 0.2, 0.3, 0.4, 0.5, 0.6, 0.7], 0.05, False),
]

fig = plt.figure(figsize=(W / 100, H / 100), dpi=100)
fig.patch.set_facecolor('white')
R = fig.canvas.get_renderer()


def envelope(ax, up, lo, lw):
    xu, yu = np.array(up).T
    xl, yl = np.array(lo).T
    ax.fill(np.r_[xu, xl[::-1]], np.r_[yu, yl[::-1]], facecolor=GREY, edgecolor=INK, lw=lw, zorder=2)


comma = FuncFormatter(lambda v, p: ('%g' % round(v, 3)).replace('.', ','))

for hu, hl, fu, fl, blue, red, box, ylim, yt, minor, big in PANELS:
    l, t, r, b = box
    ax = fig.add_axes([l / W, 1 - b / H, (r - l) / W, (b - t) / H])
    envelope(ax, hu, hl, 1.5 if big else 1.3)
    envelope(ax, fu, fl, 1.5 if big else 1.3)
    for series, col in ((blue, BLUE), (red, RED)):
        x, y = np.array(series).T
        ax.plot(x, y, color=col, lw=2.5 if big else 2.2, zorder=3, solid_joinstyle='miter')
    ax.set_xlim(1961, 2100)
    ax.set_ylim(*ylim)
    ax.set_xticks(X_TICKS)
    ax.xaxis.set_minor_locator(MultipleLocator(10))
    ax.set_yticks(yt)
    ax.yaxis.set_minor_locator(MultipleLocator(minor))
    ax.yaxis.set_major_formatter(comma)
    ax.tick_params(which='both', direction='in', top=True, right=True, color=INK, labelcolor=INK)
    if big:
        ax.tick_params(which='major', length=13, width=1.8, labelsize=19, pad=4.5)
        ax.tick_params(which='minor', length=7, width=1.6)
    else:
        ax.tick_params(which='major', length=9, width=1.5, labelsize=13.5, pad=3)
        ax.tick_params(which='minor', length=5, width=1.3)
    for s in ax.spines.values():
        s.set_linewidth(2.2 if big else 1.8)
        s.set_color(INK)

# overlay in pixel coordinates for all free text, table and border
ov = fig.add_axes([0, 0, 1, 1], zorder=10)
ov.set_xlim(0, W)
ov.set_ylim(H, 0)
ov.axis('off')
ov.patch.set_alpha(0)

ov.add_patch(Rectangle((0, 0), 6, H, color='#fdefc3', lw=0))
ov.add_patch(Rectangle((6, 0), 7, H, color=INK, lw=0))
ov.add_patch(Rectangle((13, 0), 2, H, color='#b8b8b8', lw=0))


def fit(txt, width):
    w = txt.get_window_extent(renderer=R).width
    txt.set_fontsize(txt.get_fontsize() * width / w)
    return txt.get_fontsize()


main = dict(family=[MAIN, 'DejaVu Sans'], color=INK, va='baseline')
fit(ov.text(819, 68, TITLES[0], ha='center', fontsize=40, **main), 1011)
fit(ov.text(2113, 68, TITLES[1], ha='center', fontsize=40, **main), 1024)

labels = [('All depth', 384, 198, 249), ('All depth', 1665, 198, 248),
          ('0 - 150m', 110, 983, 236), ('150 - 600m', 114, 1504, 302), ('600 - bottom', 110, 2021, 357),
          ('0 - 150m', 2129, 976, 238), ('150 - 600m', 2133, 1498, 302), ('600 - bottom', 2129, 2014, 359)]
for s, x, y, w in labels:
    fit(ov.text(x, y, s, ha='left', fontsize=40, **main), w)

leg = dict(family=[MAIN, 'DejaVu Sans'], va='baseline', ha='left')
fit(ov.text(393, 287, 'NM8-A2-AR3', color=LEG_BLUE, fontsize=36, **leg), 351)
fit(ov.text(393, 348, 'NM8-A2-AR4', color=RED, fontsize=36, **leg), 355)

para = [ov.text(800, 1730 + 79 * i, s, ha='left', fontsize=36, **main) for i, s in enumerate(PARAGRAPH)]
size = fit(para[0], 1176)
for p in para:
    p.set_fontsize(size)

# table
cols = [982, 1340, 1566, 1881]
rows = [904, 1000, 1065, 1128, 1192, 1254, 1319, 1382, 1446, 1512]
for x in cols[1:-1]:
    ov.plot([x, x], [rows[0], rows[-1]], color=INK, lw=1.6)
for y in rows[1:-1]:
    ov.plot([cols[0], cols[-1]], [y, y], color=INK, lw=1.6)
ov.add_patch(Rectangle((cols[0], rows[0]), cols[-1] - cols[0], rows[-1] - rows[0], fill=False, ec=INK, lw=3.2))

tfont = [NARROW, 'DejaVu Sans']
cx = [(cols[i] + cols[i + 1]) / 2 for i in range(3)]
bold = dict(family=tfont, weight='bold', color=INK, ha='center', va='center')
reg = dict(family=tfont, color=INK, ha='center', va='center')

probe = ov.text(cx[0], 0, TABLE_FIELDS[-1], fontsize=20, **bold)
bsize = fit(probe, 307)
probe.remove()
probe = ov.text(cx[1], 0, TABLE_REF[-1], fontsize=20, **reg)
rsize = fit(probe, 164)
probe.remove()

ov.text(cx[0], 952, TABLE_HEAD[0], fontsize=bsize, **bold)
ov.text(cx[1], 935, TABLE_HEAD[1], fontsize=bsize, **bold)
ov.text(cx[2], 935, TABLE_HEAD[3], fontsize=bsize, **bold)
sub = ov.text(cx[2], 977, TABLE_HEAD[4], fontsize=14, **bold)
ssize = fit(sub, 217)
ov.text(cx[1], 977, TABLE_HEAD[2], fontsize=ssize, **bold)

for i in range(len(TABLE_FIELDS)):
    yc = (rows[i + 1] + rows[i + 2]) / 2
    ov.text(cx[0], yc, TABLE_FIELDS[i], fontsize=bsize, **bold)
    ov.text(cx[1], yc, TABLE_REF[i], fontsize=rsize, **reg)
    ov.text(cx[2], yc, TABLE_RANGE[i], fontsize=rsize, **reg)

ov.set_xlim(0, W)
ov.set_ylim(H, 0)
fig.savefig('out.png', dpi=100)
